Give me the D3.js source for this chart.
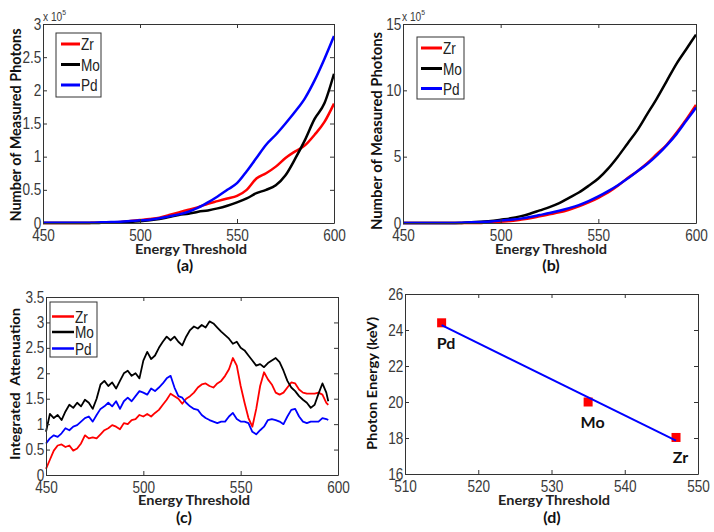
<!DOCTYPE html>
<html><head><meta charset="utf-8">
<script src="https://cdn.jsdelivr.net/npm/d3@7"></script>
<style>body{margin:0;background:#fff} svg{display:block}</style>
</head><body><svg id="c" width="714" height="532"></svg>
<script>
// ---------- DATA ----------
const seriesNames = ["Zr", "Mo", "Pd"];
const seriesColors = ["#ff0000", "#000000", "#0000ff"];

// Panel (a): measured photons (x10^5)
const abX = [450,455,460,465,470,475,480,485,490,495,500,505,510,515,520,525,530,535,540,545,550,555,560,565,570,575,580,585,590,595,600];
const aZr = [0,0,0,0,0,0.002,0.005,0.01,0.015,0.03,0.045,0.06,0.08,0.12,0.16,0.2,0.24,0.29,0.33,0.37,0.41,0.5,0.67,0.75,0.85,0.98,1.08,1.17,1.33,1.52,1.8];
const aMo = [0,0,0,0,0,0,0.002,0.005,0.01,0.015,0.025,0.04,0.06,0.09,0.12,0.14,0.17,0.19,0.22,0.26,0.31,0.37,0.45,0.5,0.57,0.72,0.97,1.25,1.57,1.8,2.25];
const aPd = [0.005,0.005,0.005,0.005,0.005,0.005,0.01,0.015,0.02,0.03,0.04,0.05,0.07,0.1,0.13,0.17,0.23,0.31,0.4,0.5,0.6,0.78,0.98,1.18,1.33,1.5,1.68,1.88,2.15,2.47,2.82];
const aYTicks = [0,0.5,1,1.5,2,2.5,3];

// Panel (b): measured photons (x10^5)
const bZr = [0,0,0,0,0,0,0,0,0,0.05,0.1,0.15,0.25,0.35,0.5,0.65,0.8,1.0,1.25,1.55,1.9,2.3,2.8,3.4,3.9,4.5,5.2,5.9,6.8,7.8,8.9];
const bMo = [0,0,0,0,0,0,0,0.05,0.1,0.15,0.25,0.35,0.5,0.7,0.95,1.2,1.5,1.9,2.3,2.8,3.35,4.1,5.0,6.0,7.0,8.2,9.4,10.7,12.0,13.1,14.2];
const bPd = [0,0,0,0,0,0,0.02,0.05,0.08,0.12,0.18,0.25,0.33,0.45,0.6,0.75,0.92,1.12,1.35,1.65,2.0,2.4,2.85,3.35,3.9,4.45,5.1,5.85,6.7,7.7,8.7];
const bYTicks = [0,5,10,15];
const abXTicks = [450,500,550,600];

// Panel (c): integrated attenuation
const cX = [450,452,454,456,458,460,462,464,466,468,470,472,474,476,478,480,482,484,486,488,490,492,494,496,498,500,502,504,506,508,510,512,514,516,518,520,522,524,526,528,530,532,534,536,538,540,542,544,546,548,550,552,554,556,558,560,562,564,566,568,570,572,574,576,578,580,582,584,586,588,590,592,594,595];
const cZr = [0.12,0.3,0.48,0.58,0.6,0.55,0.58,0.48,0.52,0.62,0.78,0.72,0.74,0.72,0.8,0.88,0.92,0.98,0.95,0.9,1.02,1.0,1.08,1.1,1.18,1.15,1.2,1.15,1.22,1.28,1.38,1.48,1.6,1.55,1.5,1.4,1.5,1.55,1.62,1.72,1.78,1.8,1.75,1.72,1.8,1.85,1.95,2.08,2.3,2.15,1.75,1.42,1.12,0.95,1.3,1.75,2.02,1.88,1.78,1.62,1.58,1.62,1.72,1.82,1.8,1.68,1.62,1.6,1.6,1.6,1.62,1.58,1.42,1.38];
const cMo = [0.85,1.2,1.12,1.18,1.08,1.25,1.38,1.32,1.42,1.35,1.48,1.42,1.3,1.5,1.78,1.85,1.75,1.82,1.7,1.85,2.0,2.05,1.95,2.0,1.9,2.25,2.42,2.28,2.35,2.5,2.62,2.72,2.65,2.72,2.62,2.55,2.72,2.85,2.92,2.88,2.95,2.9,3.02,2.98,2.9,2.82,2.75,2.68,2.58,2.62,2.5,2.45,2.35,2.25,2.15,2.18,2.12,2.2,2.25,2.3,2.22,2.05,1.85,1.72,1.65,1.55,1.48,1.42,1.32,1.38,1.6,1.8,1.62,1.45];
const cPd = [0.62,0.72,0.78,0.75,0.82,0.92,0.88,0.95,0.98,1.05,1.12,1.15,1.05,1.18,1.3,1.35,1.42,1.35,1.45,1.3,1.45,1.52,1.45,1.55,1.65,1.62,1.58,1.7,1.65,1.72,1.8,1.9,1.95,1.72,1.55,1.52,1.42,1.35,1.3,1.28,1.18,1.12,1.08,1.05,1.02,1.05,1.05,1.15,1.22,1.1,1.05,1.05,1.02,0.85,0.8,0.88,0.95,1.08,1.1,1.08,1.05,1.0,1.15,1.28,1.3,1.15,1.05,1.02,1.05,1.05,1.05,1.12,1.1,1.08];
const cXTicks = [450,500,550,600];
const cYTicks = [0,0.5,1,1.5,2,2.5,3,3.5];

// Panel (d): photon energy vs threshold
const dNames = ["Pd", "Mo", "Zr"];
const dThreshold = [515, 535, 547];
const dEnergy = [24.4, 20.0, 18.03];
const dFitX = [515, 547];
const dFitY = [24.27, 17.85];
const dXTicks = [510,520,530,540,550];
const dYTicks = [16,18,20,22,24,26];

// ---------- DRAWING ----------
const svg = d3.select("#c");
const tickFont = "'Liberation Sans', Arial, sans-serif";
const labFont = "Lato, 'Open Sans', sans-serif";
const axCol = "#333";
const fmt = d => String(d);

function drawAxes(x, y, xt, yt) {
  const [xl, xr] = x.range();
  const [yb, yt0] = y.range();
  const g = svg.append("g");
  g.append("g").attr("transform", `translate(0,${yb})`)
    .call(d3.axisBottom(x).tickValues(xt).tickFormat(fmt).tickSizeInner(-4).tickSizeOuter(0).tickPadding(7));
  g.append("g").attr("transform", `translate(${xl},0)`)
    .call(d3.axisLeft(y).tickValues(yt).tickFormat(fmt).tickSizeInner(-4).tickSizeOuter(0).tickPadding(2));
  g.append("g").attr("transform", `translate(0,${yt0})`)
    .call(d3.axisTop(x).tickValues(xt).tickFormat("").tickSizeInner(-4).tickSizeOuter(0));
  g.append("g").attr("transform", `translate(${xr},0)`)
    .call(d3.axisRight(y).tickValues(yt).tickFormat("").tickSizeInner(-4).tickSizeOuter(0));
  g.selectAll(".domain").attr("stroke", axCol).attr("stroke-width", 1);
  g.selectAll(".tick line").attr("stroke", axCol);
  g.selectAll(".tick text").attr("fill", "#3a3a3a").attr("font-family", tickFont)
    .attr("font-size", 16).attr("transform", "scale(0.85,1)");
  return g;
}

function xLabel(text, cx, by, len) {
  svg.append("text").attr("x", cx).attr("y", by).attr("text-anchor", "middle")
    .attr("font-family", labFont).attr("font-weight", "bold").attr("font-size", 14)
    .attr("fill", "#222").attr("textLength", len).attr("lengthAdjust", "spacingAndGlyphs").text(text);
}
function yLabel(text, bx, cy, len, size) {
  svg.append("text").attr("transform", `translate(${bx},${cy}) rotate(-90)`).attr("text-anchor", "middle")
    .attr("font-family", labFont).attr("font-weight", "bold").attr("font-size", size)
    .attr("fill", "#111").attr("textLength", len).attr("lengthAdjust", "spacingAndGlyphs")
    .style("white-space", "pre").text(text);
}
function caption(text, cx, by) {
  svg.append("text").attr("x", cx).attr("y", by).attr("text-anchor", "middle")
    .attr("font-family", labFont).attr("font-weight", "bold").attr("font-size", 16)
    .attr("fill", "#111").text(text);
}
function expLabel(x0, by) {
  const t = svg.append("text").attr("transform", `translate(${x0},${by}) scale(0.85,1)`)
    .attr("font-family", tickFont).attr("font-size", 12).attr("fill", "#3a3a3a");
  t.append("tspan").text("x 10");
  t.append("tspan").attr("dy", -6).attr("font-size", 8).text("5");
}
function legend(bx, by, bw, bh, lx0, lx1, rows, lw, fs) {
  const g = svg.append("g");
  g.append("rect").attr("x", bx).attr("y", by).attr("width", bw).attr("height", bh)
    .attr("fill", "#fff").attr("stroke", axCol).attr("stroke-width", 1);
  seriesNames.forEach((n, i) => {
    g.append("line").attr("x1", lx0).attr("x2", lx1).attr("y1", rows[i]).attr("y2", rows[i])
      .attr("stroke", seriesColors[i]).attr("stroke-width", lw);
    g.append("text").attr("transform", `translate(${lx1 + 1},${rows[i] + 6}) scale(0.85,1)`)
      .attr("font-family", tickFont).attr("font-size", fs).attr("fill", "#222").text(n);
  });
}
function drawSeries(x, y, xs, ys, color, w, curve) {
  const line = d3.line().x((d, i) => x(xs[i])).y(d => y(d)).curve(curve);
  svg.append("path").datum(ys).attr("d", line).attr("fill", "none")
    .attr("stroke", color).attr("stroke-width", w).attr("stroke-linejoin", "round");
}

// Panel (a)
{
  const x = d3.scaleLinear().domain([450, 600]).range([43, 334]);
  const y = d3.scaleLinear().domain([0, 3]).range([223, 24]);
  [aZr, aMo, aPd].forEach((s, i) => drawSeries(x, y, abX, s, seriesColors[i], 2.5, d3.curveMonotoneX));
  drawAxes(x, y, abXTicks, aYTicks);
  legend(56, 33, 45, 64, 61, 80, [44, 64.5, 85], 3, 16);
  expLabel(43, 21);
  xLabel("Energy Threshold", 191, 254, 112);
  yLabel("Number of Measured Photons", 20.5, 125, 193, 16);
  caption("(a)", 185, 271);
}
// Panel (b)
{
  const x = d3.scaleLinear().domain([450, 600]).range([403, 696]);
  const y = d3.scaleLinear().domain([0, 15]).range([223, 24]);
  [bZr, bMo, bPd].forEach((s, i) => drawSeries(x, y, abX, s, seriesColors[i], 2.5, d3.curveMonotoneX));
  drawAxes(x, y, abXTicks, bYTicks);
  legend(417, 37, 47, 62, 421, 442, [48, 68.5, 88.5], 3, 16);
  expLabel(402, 21);
  xLabel("Energy Threshold", 551, 254, 112);
  yLabel("Number of Measured Photons", 382, 131, 198, 16);
  caption("(b)", 551, 271);
}
// Panel (c)
{
  const x = d3.scaleLinear().domain([450, 600]).range([46, 338]);
  const y = d3.scaleLinear().domain([0, 3.5]).range([475, 297]);
  [cZr, cMo, cPd].forEach((s, i) => drawSeries(x, y, cX, s, seriesColors[i], 1.8, d3.curveLinear));
  drawAxes(x, y, cXTicks, cYTicks);
  legend(50, 302, 47, 55, 52, 74, [316.5, 332, 348.5], 2.5, 16);
  xLabel("Energy Threshold", 194, 505, 112);
  yLabel("Integrated  Attenuation", 19.5, 384, 152, 14);
  caption("(c)", 184, 523);
}
// Panel (d)
{
  const x = d3.scaleLinear().domain([510, 550]).range([405, 698]);
  const y = d3.scaleLinear().domain([16, 26]).range([474, 294]);
  drawAxes(x, y, dXTicks, dYTicks);
  svg.append("g").selectAll("rect").data(dThreshold).join("rect")
    .attr("x", (d) => x(d) - 4.5).attr("y", (d, i) => y(dEnergy[i]) - 4.5)
    .attr("width", 9).attr("height", 9).attr("fill", "#ff0000");
  const fit = d3.line().x((d, i) => x(dFitX[i])).y(d => y(d));
  svg.append("path").datum(dFitY).attr("d", fit).attr("fill", "none")
    .attr("stroke", "#0000ff").attr("stroke-width", 2);
  svg.append("g").selectAll("text").data(dNames).join("text")
    .attr("x", (d, i) => x(dThreshold[i]) + 4.5).attr("y", (d, i) => y(dEnergy[i]) + 26)
    .attr("text-anchor", "middle").attr("font-family", labFont).attr("font-weight", "bold")
    .attr("font-size", 16).attr("fill", "#111").text(d => d);
  xLabel("Energy Threshold", 554, 505, 112);
  yLabel("Photon Energy (keV)", 377, 383.5, 133, 14);
  caption("(d)", 552, 523);
}
</script></body></html>
